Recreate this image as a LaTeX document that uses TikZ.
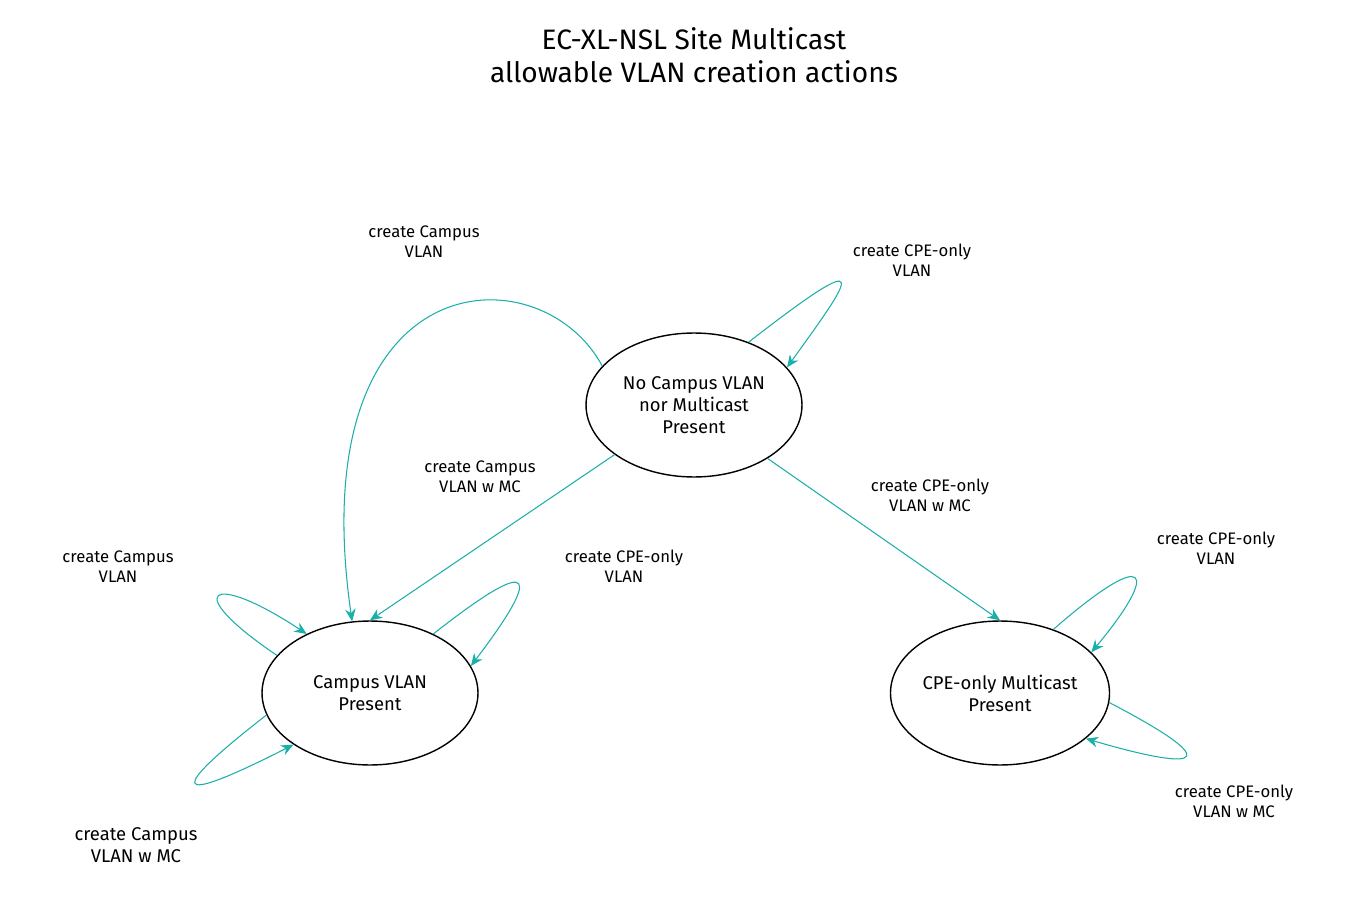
\documentclass[tikz,border=0pt]{standalone}
\usepackage{fontspec}
\setmainfont{Fira Sans}
\usetikzlibrary{arrows.meta, positioning, shapes.geometric}
\definecolor{teal1}{HTML}{1AAFA8}

\begin{document}
\begin{tikzpicture}[x=0.02cm, y=-0.02cm, state/.style={draw, ellipse, thick, minimum width=4.32cm, minimum height=2.88cm, align=center, font=\fontsize{10.5}{12.5}\selectfont, inner sep=0pt}, lbl/.style={align=center, font=\fontsize{9.5}{11.5}\selectfont}, post/.style={-{Stealth[length=7pt, width=6pt]}, draw=teal1, fill=none, semithick}]

	\useasboundingbox (0,0) rectangle (1352,912);

	\node [align=center, font=\fontsize{16}{19}\selectfont] (T) at (694,55)
		{EC-XL-NSL Site Multicast\\allowable VLAN creation actions};

	\node [state] (NC) at (694,405) {No Campus VLAN\\nor Multicast\\Present};
	\node [state] (CV) at (370,693) {Campus VLAN\\Present};
	\node [state] (CPE) at (1000,693) {CPE-only Multicast\\Present};

	% from the starting state
	\draw[post] (NC.157) .. controls (540,250) and (300,260) .. (CV.104);
	\draw[post] (NC.49) .. controls (880,240) and (850,280) .. (NC.22);
	\draw[post] (NC.212) -- (CV.90);
	\draw[post] (NC.324) -- (CPE.90);

	% campus state loops
	\draw[post] (CV.158) .. controls (180,590) and (210,570) .. (CV.137);
	\draw[post] (CV.43) .. controls (540,550) and (540,575) .. (CV.15);
	\draw[post] (CV.192) .. controls (170,790) and (165,810) .. (CV.214);

	% cpe state loops
	\draw[post] (CPE.50) .. controls (1150,545) and (1160,570) .. (CPE.24);
	\draw[post] (CPE.355) .. controls (1220,760) and (1210,775) .. (CPE.332);

	\node [lbl] (L1) at (424,242) {create Campus\\VLAN};
	\node [lbl] (L2) at (912,260) {create CPE-only\\VLAN};
	\node [lbl] (L3) at (480,477) {create Campus\\VLAN w MC};
	\node [lbl] (L4) at (930,495) {create CPE-only\\VLAN w MC};
	\node [lbl] (L5) at (118,567) {create Campus\\VLAN};
	\node [lbl] (L6) at (624,566) {create CPE-only\\VLAN};
	\node [lbl, font=\fontsize{10.5}{12.5}\selectfont] (L7) at (136,845) {create Campus\\VLAN w MC};
	\node [lbl] (L8) at (1216,548) {create CPE-only\\VLAN};
	\node [lbl] (L9) at (1234,801) {create CPE-only\\VLAN w MC};

\end{tikzpicture}
\end{document}
